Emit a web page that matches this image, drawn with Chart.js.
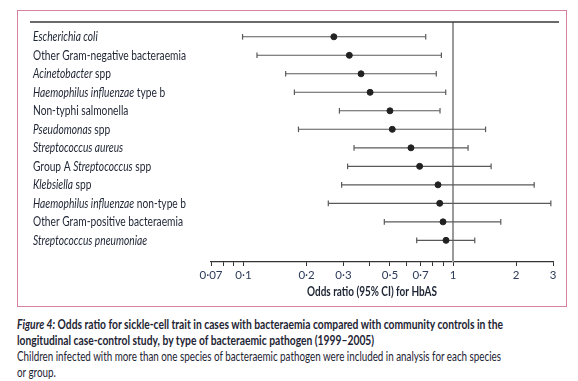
<!DOCTYPE html>
<html><head><meta charset="utf-8">
<script src="https://cdn.jsdelivr.net/npm/chart.js@4/dist/chart.umd.min.js"></script>
<style>
html,body{margin:0;padding:0;background:#fff;}
body{width:578px;height:381px;overflow:hidden;position:relative;font-family:Lato,'Open Sans',sans-serif;color:#1d2433;}
#frame{position:absolute;left:17px;top:10px;width:550px;height:297px;border:1.5px solid #d9809c;box-sizing:border-box;}
#wrap{position:absolute;left:0;top:0;width:578px;height:310px;}
#cap{position:absolute;left:17px;top:316px;width:640px;font-size:13.5px;line-height:16px;white-space:nowrap;}
#cap span{display:inline-block;transform-origin:0 50%;}
#cap .b{font-weight:bold;}
</style></head>
<body>
<div id="frame"></div>
<div id="wrap"><canvas id="c" width="578" height="310"></canvas></div>
<div id="cap"><span class="b" id="l1"><i>Figure 4:</i> Odds ratio for sickle-cell trait in cases with bacteraemia compared with community controls in the</span><br><span class="b" id="l2">longitudinal case-control study, by type of bacteraemic pathogen (1999–2005)</span><br><span id="l3">Children infected with more than one species of bacteraemic pathogen were included in analysis for each species</span><br><span id="l4">or group.</span></div>
<script>
const categories = ["Escherichia coli","Other Gram-negative bacteraemia","Acinetobacter spp","Haemophilus influenzae type b","Non-typhi salmonella","Pseudomonas spp","Streptococcus aureus","Group A Streptococcus spp","Klebsiella spp","Haemophilus influenzae non-type b","Other Gram-positive bacteraemia","Streptococcus pneumoniae"];
const italicParts = ["Escherichia coli","","Acinetobacter","Haemophilus influenzae","","Pseudomonas","Streptococcus aureus","Streptococcus","Klebsiella","Haemophilus influenzae","","Streptococcus pneumoniae"];
const oddsRatio = [0.27,0.32,0.364,0.402,0.50,0.513,0.63,0.693,0.848,0.864,0.896,0.926];
const ciLow =     [0.099,0.116,0.159,0.175,0.287,0.183,0.337,0.314,0.294,0.254,0.47,0.671];
const ciHigh =    [0.741,0.88,0.832,0.923,0.867,1.43,1.18,1.52,2.44,2.93,1.69,1.27];
const tickValues = [0.07,0.08,0.09,0.1,0.2,0.3,0.4,0.5,0.6,0.7,0.8,0.9,1,2,3];
const tickLabels = ['0·07','','','0·1','0·2','0·3','','0·5','','0·7','','','1','2','3'];
const axisTitle = 'Odds ratio (95% CI) for HbAS';

const FONT = "Lato,'Open Sans',sans-serif";

// caption fitting
(function(){
  const fit = (id,w)=>{const e=document.getElementById(id);const s=w/e.getBoundingClientRect().width;e.style.transform='scaleX('+s+')';return s;};
  const sb = fit('l1',486);
  const sr = fit('l3',484);
  document.getElementById('l2').style.transform='scaleX('+sb+')';
  document.getElementById('l4').style.transform='scaleX('+sr+')';
})();

const datasets = [];
datasets.push({type:'line',data:[{x:1,y:-0.8},{x:1,y:12.17}],borderColor:'#9a9a9a',borderWidth:2,pointRadius:0,clip:false,order:10});
categories.forEach((c,i)=>{
  datasets.push({type:'line',data:[{x:ciLow[i],y:i},{x:ciHigh[i],y:i}],borderColor:'#5a5a5a',borderWidth:1.1,
    pointStyle:'line',rotation:90,pointRadius:2.8,pointBorderColor:'#5a5a5a',pointBorderWidth:1.2,clip:false,order:5});
});
datasets.push({type:'scatter',data:oddsRatio.map((v,i)=>({x:v,y:i})),backgroundColor:'#222',borderColor:'#222',pointRadius:3,clip:false,order:1});

function segsOf(i){
  const c=categories[i], it=italicParts[i], segs=[];
  if(it){ const k=c.indexOf(it); if(k>0) segs.push([c.slice(0,k),false]); segs.push([it,true]); if(k+it.length<c.length) segs.push([c.slice(k+it.length),false]); }
  else segs.push([c,false]);
  return segs;
}
const labelPlugin = {
  id:'labels',
  afterDraw(chart){
    const ctx = chart.ctx, ys = chart.scales.y, area = chart.chartArea;
    ctx.save();
    ctx.strokeStyle='#3a3a3a'; ctx.lineWidth=1.5;
    ctx.beginPath(); ctx.moveTo(30,area.top); ctx.lineTo(559,area.top); ctx.stroke();
    ctx.textBaseline='middle'; ctx.fillStyle='#1d2433';
    ctx.font='13.5px '+FONT;
    const sx = 153/ctx.measureText(categories[1]).width;
    categories.forEach((c,i)=>{
      const y = ys.getPixelForValue(i);
      let x = 0;
      ctx.save(); ctx.translate(33,y); ctx.scale(sx,1);
      segsOf(i).forEach(([t,ital])=>{
        ctx.font=(ital?'italic ':'')+'13.5px '+FONT;
        ctx.fillText(t,x,0); x+=ctx.measureText(t).width;
      });
      ctx.restore();
    });
    ctx.font='bold 13px '+FONT; ctx.textAlign='center';
    const st = 130/ctx.measureText(axisTitle).width;
    ctx.save(); ctx.translate(372,292); ctx.scale(st,1); ctx.fillText(axisTitle,0,0); ctx.restore();
    ctx.restore();
  }
};

new Chart(document.getElementById('c'),{
  data:{datasets},
  options:{
    responsive:false,animation:false,
    layout:{padding:{top:22,left:211,right:25,bottom:0}},
    plugins:{legend:{display:false},tooltip:{enabled:false}},
    scales:{
      x:{type:'logarithmic',min:0.07,max:3,
        afterBuildTicks(s){s.ticks=tickValues.map(v=>({value:v}));},
        afterFit(s){s.height=48;},
        ticks:{autoSkip:false,maxRotation:0,padding:2,color:'#2c3b5a',font:{family:FONT,size:11.5},
          callback:(v)=>{const k=tickValues.indexOf(v);return k>=0?tickLabels[k]:'';}},
        grid:{drawOnChartArea:false,drawTicks:true,tickLength:4,color:'#333',tickWidth:1},
        border:{display:true,color:'#333',width:1.2}
      },
      y:{type:'linear',reverse:true,min:-0.8,max:12.17,display:false}
    }
  },
  plugins:[labelPlugin]
});
</script>
</body></html>
